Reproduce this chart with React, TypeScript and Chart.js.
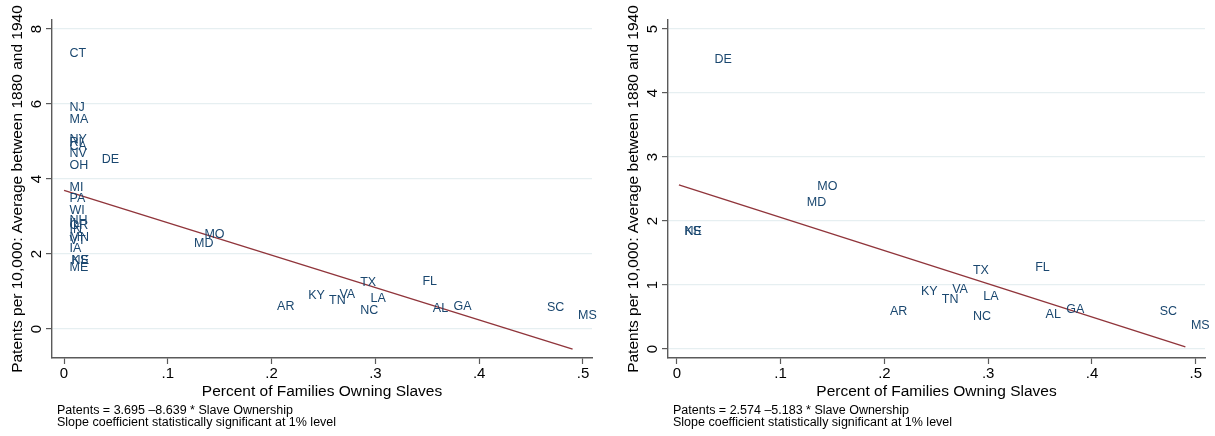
import { useEffect, useRef } from "react";
import { Chart, registerables } from "chart.js";

Chart.register(...registerables);

// State-level observations: share of families owning slaves (1860) and
// average patents per 10,000 residents, 1880-1940.
const STATES = [
  "CT", "NJ", "MA", "NY", "RI", "CA", "NV", "OH", "MI", "PA", "WI", "NH",
  "IL", "OR", "IN", "MN", "VT", "IA", "KS", "NE", "ME",
  "DE", "MO", "MD", "AR", "KY", "TN", "VA", "TX", "NC", "LA", "FL", "AL",
  "GA", "SC", "MS",
];
const SLAVE_SHARE = [
  0, 0, 0, 0, 0, 0, 0, 0, 0, 0, 0, 0,
  0, 0, 0, 0, 0, 0, 0.002, 0.002, 0,
  0.031, 0.13, 0.12, 0.2, 0.23, 0.25, 0.26, 0.28, 0.28, 0.29, 0.34, 0.35,
  0.37, 0.46, 0.49,
];
const PATENTS = [
  7.36, 5.93, 5.61, 5.06, 4.98, 4.88, 4.68, 4.36, 3.79, 3.5, 3.17, 2.91,
  2.82, 2.78, 2.67, 2.44, 2.36, 2.16, 1.85, 1.84, 1.65,
  4.53, 2.54, 2.3, 0.6, 0.91, 0.78, 0.94, 1.24, 0.51, 0.83, 1.28, 0.55,
  0.62, 0.59, 0.38,
];

// Fitted regression lines (all states / slave-holding states only)
const FIT_ALL = { intercept: 3.695, slope: -8.639 };
const FIT_SLAVE = { intercept: 2.574, slope: -5.183 };

const X_TICKS = [0, 0.1, 0.2, 0.3, 0.4, 0.5];
const Y_TICKS_ALL = [0, 2, 4, 6, 8];
const Y_TICKS_SLAVE = [0, 1, 2, 3, 4, 5];

const X_TITLE = "Percent of Families Owning Slaves";
const Y_TITLE = "Patents per 10,000: Average between 1880 and 1940";
const NOTE_ALL = [
  "Patents = 3.695 \u20138.639 * Slave Ownership",
  "Slope coefficient statistically significant at 1% level",
];
const NOTE_SLAVE = [
  "Patents = 2.574 \u20135.183 * Slave Ownership",
  "Slope coefficient statistically significant at 1% level",
];

const FONT = "'Liberation Sans', Arial, Helvetica, sans-serif";
const LABEL_COLOR = "#1a476f";
const FIT_COLOR = "#90353b";
const GRID_COLOR = "#e6eff1";
const AXIS_COLOR = "#5a5a5a";
const TEXT_COLOR = "#000000";

const H = 436;

type PanelProps = {
  names: string[];
  xs: number[];
  ys: number[];
  fit: { intercept: number; slope: number };
  yTicks: number[];
  yMin: number;
  yMax: number;
  xMin: number;
  xMax: number;
  padLeft: number;
  padRight: number;
  notes: string[];
  left: number;
  width: number;
};

function fmtX(v: number) {
  if (Math.abs(v) < 1e-9) return "0";
  return "." + Math.round(v * 10);
}

function Panel(p: PanelProps) {
  const ref = useRef<HTMLCanvasElement | null>(null);

  useEffect(() => {
    if (!ref.current) return;
    const points = p.xs.map((x, i) => ({ x, y: p.ys[i] }));
    const lo = Math.min(...p.xs);
    const hi = Math.max(...p.xs);
    const fitLine = [
      { x: lo, y: p.fit.intercept + p.fit.slope * lo },
      { x: hi, y: p.fit.intercept + p.fit.slope * hi },
    ];

    const stateLabels = {
      id: "stateLabels",
      afterDatasetsDraw(chart: any) {
        const meta = chart.getDatasetMeta(0);
        const ctx = chart.ctx;
        ctx.save();
        ctx.font = `12.5px ${FONT}`;
        ctx.fillStyle = LABEL_COLOR;
        ctx.textAlign = "left";
        ctx.textBaseline = "middle";
        meta.data.forEach((el: any, i: number) => {
          ctx.fillText(p.names[i], el.x + 5.5, el.y + 0.5);
        });
        ctx.restore();
      },
    };

    const notes = {
      id: "notes",
      afterDraw(chart: any) {
        const ctx = chart.ctx;
        const x = chart.chartArea.left + 5;
        const y0 = chart.scales.x.bottom + 9;
        ctx.save();
        ctx.font = `12.5px ${FONT}`;
        ctx.fillStyle = TEXT_COLOR;
        ctx.textAlign = "left";
        ctx.textBaseline = "middle";
        p.notes.forEach((t, i) => ctx.fillText(t, x, y0 + i * 12));
        ctx.restore();
      },
    };

    const chart = new Chart(ref.current, {
      type: "scatter",
      data: {
        datasets: [
          {
            data: points,
            pointRadius: 0,
            pointHoverRadius: 0,
            showLine: false,
          },
          {
            data: fitLine,
            showLine: true,
            borderColor: FIT_COLOR,
            borderWidth: 1.4,
            pointRadius: 0,
            pointHoverRadius: 0,
            fill: false,
          },
        ],
      },
      options: {
        animation: false,
        responsive: false,
        events: [],
        layout: {
          padding: { left: p.padLeft, right: p.padRight, top: 20, bottom: 34 },
        },
        plugins: {
          legend: { display: false },
          tooltip: { enabled: false },
        },
        scales: {
          x: {
            type: "linear",
            min: p.xMin,
            max: p.xMax,
            afterBuildTicks: (s: any) => {
              s.ticks = X_TICKS.map((v) => ({ value: v }));
            },
            afterFit: (s: any) => {
              s.height = 44;
            },
            ticks: {
              callback: (v: any) => fmtX(Number(v)),
              color: TEXT_COLOR,
              font: { family: FONT, size: 15 },
              padding: 1,
              maxRotation: 0,
              minRotation: 0,
              includeBounds: false,
            },
            grid: {
              drawOnChartArea: false,
              drawTicks: true,
              tickLength: 6,
              tickColor: AXIS_COLOR,
              tickWidth: 1.2,
            },
            border: { display: true, color: AXIS_COLOR, width: 1.4 },
            title: {
              display: true,
              text: X_TITLE,
              color: TEXT_COLOR,
              font: { family: FONT, size: 15.5 },
              padding: { top: 0, bottom: 1 },
            },
          },
          y: {
            type: "linear",
            min: p.yMin,
            max: p.yMax,
            afterBuildTicks: (s: any) => {
              s.ticks = p.yTicks.map((v) => ({ value: v }));
            },
            afterFit: (s: any) => {
              s.width = 52;
            },
            ticks: {
              callback: (v: any) => String(v),
              color: TEXT_COLOR,
              font: { family: FONT, size: 15 },
              minRotation: 90,
              maxRotation: 90,
              crossAlign: "center",
              padding: 5,
              includeBounds: false,
            },
            grid: {
              color: GRID_COLOR,
              lineWidth: 1.2,
              drawTicks: true,
              tickLength: 6,
              tickColor: AXIS_COLOR,
              tickWidth: 1.2,
            },
            border: { display: true, color: AXIS_COLOR, width: 1.4 },
            title: {
              display: true,
              text: Y_TITLE,
              color: TEXT_COLOR,
              font: { family: FONT, size: 15.5 },
              padding: { top: 8, bottom: 0 },
            },
          },
        },
      },
      plugins: [stateLabels, notes],
    } as any);

    return () => chart.destroy();
  }, []);

  return (
    <canvas
      ref={ref}
      width={p.width}
      height={H}
      style={{ position: "absolute", left: p.left, top: 0, width: p.width, height: H }}
    />
  );
}

export default function App() {
  // Second panel keeps only the states where some families owned slaves.
  const keep = SLAVE_SHARE.map((s, i) => (s > 0 ? i : -1)).filter((i) => i >= 0);
  const slaveNames = keep.map((i) => STATES[i]);
  const slaveXs = keep.map((i) => SLAVE_SHARE[i]);
  const slaveYs = keep.map((i) => PATENTS[i]);

  return (
    <div
      style={{
        position: "absolute",
        left: 0,
        top: 0,
        width: 1215,
        height: H,
        background: "#ffffff",
      }}
    >
      <Panel
        names={STATES}
        xs={SLAVE_SHARE}
        ys={PATENTS}
        fit={FIT_ALL}
        yTicks={Y_TICKS_ALL}
        yMin={-0.773}
        yMax={8.24}
        xMin={-0.0116}
        xMax={0.5087}
        padLeft={0}
        padRight={16}
        notes={NOTE_ALL}
        left={0}
        width={608}
      />
      <Panel
        names={slaveNames}
        xs={slaveXs}
        ys={slaveYs}
        fit={FIT_SLAVE}
        yTicks={Y_TICKS_SLAVE}
        yMin={-0.14}
        yMax={5.14}
        xMin={-0.0085}
        xMax={0.5089}
        padLeft={8}
        padRight={10}
        notes={NOTE_SLAVE}
        left={608}
        width={607}
      />
    </div>
  );
}
